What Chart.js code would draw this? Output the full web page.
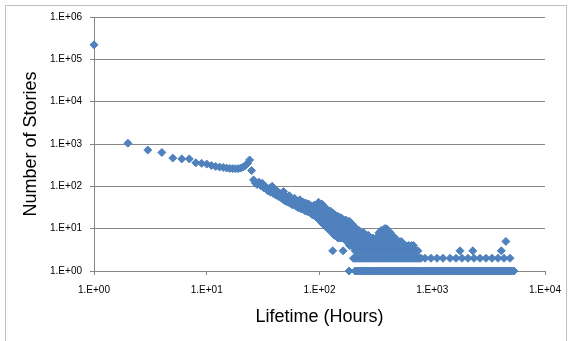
<!DOCTYPE html>
<html>
<head>
<meta charset="utf-8">
<script src="https://cdn.jsdelivr.net/npm/chart.js@4.4.1/dist/chart.umd.min.js"></script>
<style>
  html, body { margin: 0; padding: 0; background: #ffffff; }
  canvas { display: block; }
</style>
</head>
<body>
<canvas id="c" width="571" height="341"></canvas>
<script>
// Story lifetime distribution: number of stories per lifetime (hours), log-log.

// First day, one point per hour
const earlyHours  = [1, 2, 3, 4, 5, 6, 7, 8, 9, 10, 11, 12, 13, 14, 15, 16, 17, 18, 19, 20, 21, 22, 23, 24, 25, 26];
const earlyCounts = [220000, 1040, 720, 630, 465, 445, 445, 360, 350, 335, 310, 295, 285, 280, 270, 265, 262, 260, 262, 270, 285, 310, 350, 420, 235, 142];

// Main descending band, 27 to 100 hours
const bandHours = [27, 28, 29, 30, 31, 32, 33, 34, 35, 36, 37, 38, 39, 40, 41, 42, 43, 44, 45, 46, 47, 48, 49, 50,
  51, 52, 53, 54, 55, 56, 57, 58, 59, 60, 61, 62, 63, 64, 65, 66, 67, 68, 69, 70, 71, 72, 73, 74, 75, 76, 77, 78, 79, 80,
  81, 82, 83, 84, 85, 86, 87, 88, 89, 90, 91, 92, 93, 94, 95, 96, 97, 98, 99, 100];
const bandCounts = [120, 110, 125, 105, 118, 92, 100, 85, 78, 90, 72, 100, 68, 85, 62, 78, 58, 70, 55, 64, 50, 75, 46, 60,
  44, 55, 42, 60, 40, 50, 37, 46, 36, 52, 40, 34, 44, 32, 40, 31, 48, 30, 38, 29, 34, 42, 28, 36, 26, 40, 30, 33, 25, 38,
  28, 30, 35, 23, 29, 33, 21, 30, 26, 36, 20, 27, 24, 32, 18, 25, 29, 42, 17, 28];

// Widening band, 101 to 200 hours
const spreadHours = [101, 102, 103, 104, 105, 106, 107, 108, 109, 110, 111, 112, 113, 114, 115, 116, 117, 118, 119, 120,
  121, 122, 123, 124, 125, 126, 127, 128, 129, 130, 131, 132, 133, 134, 135, 136, 137, 138, 139, 140,
  141, 142, 143, 144, 145, 146, 147, 148, 149, 150, 151, 152, 153, 154, 155, 156, 157, 158, 159, 160,
  161, 162, 163, 164, 165, 166, 167, 168, 169, 170, 171, 172, 173, 174, 175, 176, 177, 178, 179, 180,
  181, 182, 183, 184, 185, 186, 187, 188, 189, 190, 191, 192, 193, 194, 195, 196, 197, 198, 199, 200];
const spreadCounts = [34, 18, 26, 14, 38, 22, 13, 29, 17, 33, 12, 24, 19, 30, 11, 21, 15, 27, 10, 18,
  24, 13, 20, 9, 26, 15, 22, 11, 17, 8, 3, 23, 12, 19, 7, 15, 21, 9, 13, 18,
  7, 11, 20, 8, 15, 6, 12, 19, 9, 14, 6, 17, 10, 13, 6, 18, 8, 12, 15, 6,
  10, 3, 16, 7, 13, 9, 6, 14, 11, 6, 16, 8, 12, 5, 10, 14, 7, 11, 5, 13,
  8, 10, 6, 15, 4, 9, 12, 5, 7, 11, 4, 8, 13, 6, 10, 4, 7, 12, 5, 9];

// Long tail: hours at which a given small count of stories occurs
const tenStoryHours   = [203, 212, 378, 392];
const nineStoryHours  = [201, 210, 224, 352, 372, 388, 402];
const eightStoryHours = [205, 218, 230, 246, 337, 358, 381, 405, 425];
const sevenStoryHours = [200, 214, 228, 241, 256, 270, 345, 366, 392, 415, 440];
const sixStoryHours   = [207, 220, 233, 248, 264, 281, 298, 317, 337, 358, 381, 405, 431, 458, 470];
const fiveStoryHours  = [200, 213, 226, 240, 255, 272, 289, 308, 327, 347, 369, 393, 418, 444, 472, 502, 530, 4500];
const fourStoryHours  = [204, 216, 230, 244, 260, 276, 294, 312, 332, 353, 376, 400, 426, 453, 482, 512, 545, 580, 617, 655, 680];
const threeStoryHours = [207, 213, 220, 227, 233, 241, 248, 256, 264, 272, 281, 289, 298, 308, 317, 327, 337, 348, 358, 369,
  381, 393, 405, 418, 431, 444, 458, 472, 487, 502, 518, 534, 550, 567, 585, 603, 622, 641, 661, 682,
  703, 725, 747, 1762, 2290, 4100];
const twoStoryHours   = [200, 207, 213, 220, 227, 233, 241, 248, 256, 264, 272, 281, 289, 298, 308, 317, 327, 337, 348, 358,
  369, 381, 393, 405, 418, 431, 444, 458, 472, 487, 502, 518, 534, 550, 567, 585, 603, 622, 641, 661,
  682, 703, 725, 747, 771, 794, 862, 975, 1102, 1246, 1437, 1624, 1836, 2075, 2345, 2651, 2997, 3388, 3830, 4329, 4894];
const oneStoryHours   = [183, 207, 213, 220, 227, 233, 241, 248, 256, 264, 272, 281, 289, 298, 308, 317, 327, 337, 348, 358,
  369, 381, 393, 405, 418, 431, 444, 458, 472, 487, 502, 518, 534, 550, 567, 585, 603, 622, 641, 661,
  682, 703, 725, 747, 771, 794, 819, 845, 871, 898, 926, 955, 985, 1015, 1047, 1079, 1113, 1148, 1183, 1220,
  1258, 1297, 1338, 1379, 1422, 1466, 1512, 1559, 1608, 1658, 1709, 1762, 1817, 1874, 1932, 1992, 2054, 2118, 2184, 2252,
  2322, 2394, 2469, 2546, 2625, 2706, 2791, 2877, 2967, 3059, 3154, 3252, 3354, 3457, 3565, 3676, 3790, 3908, 4030, 4155,
  4285, 4417, 4555, 4696, 4843, 4993, 5149, 5308];

// Axis ticks
const xTickValues = [1, 10, 100, 1000, 10000];
const xTickLabels = ['1.E+00', '1.E+01', '1.E+02', '1.E+03', '1.E+04'];
const yTickValues = [1, 10, 100, 1000, 10000, 100000, 1000000];
const yTickLabels = ['1.E+00', '1.E+01', '1.E+02', '1.E+03', '1.E+04', '1.E+05', '1.E+06'];

const pairs = (xs, ys) => xs.map((x, i) => ({ x: x, y: ys[i] }));
const row = (xs, count) => xs.map(x => ({ x: x, y: count }));

const points = [].concat(
  pairs(earlyHours, earlyCounts),
  pairs(bandHours, bandCounts),
  pairs(spreadHours, spreadCounts),
  row(tenStoryHours, 10), row(nineStoryHours, 9), row(eightStoryHours, 8),
  row(sevenStoryHours, 7), row(sixStoryHours, 6), row(fiveStoryHours, 5),
  row(fourStoryHours, 4), row(threeStoryHours, 3), row(twoStoryHours, 2),
  row(oneStoryHours, 1)
);

const markerColor = '#4F81BD';
const gridColor = '#868686';
const tickFont = { family: "'Liberation Sans', Arial, sans-serif", size: 10 };
const titleFont = { family: "'Liberation Sans', Arial, sans-serif", size: 18 };

// Light frame around the whole chart
const frame = {
  id: 'frame',
  beforeDraw(chart) {
    const ctx = chart.ctx;
    ctx.save();
    ctx.strokeStyle = '#BFBFBF';
    ctx.lineWidth = 1;
    ctx.beginPath();
    ctx.moveTo(5.5, 341);
    ctx.lineTo(5.5, 5.5);
    ctx.lineTo(566.5, 5.5);
    ctx.lineTo(566.5, 341);
    ctx.stroke();
    ctx.restore();
  }
};

new Chart(document.getElementById('c'), {
  type: 'scatter',
  data: {
    datasets: [{
      data: points,
      pointStyle: 'rectRot',
      pointRadius: 4,
      pointHoverRadius: 4,
      backgroundColor: markerColor,
      borderColor: markerColor,
      borderWidth: 1,
      clip: false
    }]
  },
  options: {
    responsive: false,
    animation: false,
    devicePixelRatio: 1,
    layout: { padding: { top: 17, right: 26, bottom: 0, left: 0 } },
    plugins: { legend: { display: false }, tooltip: { enabled: false } },
    scales: {
      x: {
        type: 'logarithmic',
        min: 1,
        max: 10000,
        afterBuildTicks: s => { s.ticks = xTickValues.map(v => ({ value: v })); },
        afterFit: s => { s.height = 70; },
        grid: { drawOnChartArea: false, drawTicks: true, tickLength: 4, color: gridColor },
        border: { display: true, color: gridColor },
        ticks: {
          font: tickFont, color: '#000', padding: 9, maxRotation: 0, autoSkip: false,
          callback: (v, i) => xTickLabels[i]
        },
        title: {
          display: true, text: 'Lifetime (Hours)', font: titleFont, color: '#000',
          padding: { top: 4, bottom: 12.7 }
        }
      },
      y: {
        type: 'logarithmic',
        min: 1,
        max: 1000000,
        afterBuildTicks: s => { s.ticks = yTickValues.map(v => ({ value: v })); },
        afterFit: s => { s.width = 94; },
        grid: { drawOnChartArea: true, drawTicks: true, tickLength: 4, color: gridColor },
        border: { display: true, color: gridColor },
        ticks: {
          font: tickFont, color: '#000', padding: 8, autoSkip: false,
          callback: (v, i) => yTickLabels[i]
        },
        title: {
          display: true, text: 'Number of Stories', font: titleFont, color: '#000',
          padding: { top: 20, bottom: 4 }
        }
      }
    }
  },
  plugins: [frame]
});
</script>
</body>
</html>
